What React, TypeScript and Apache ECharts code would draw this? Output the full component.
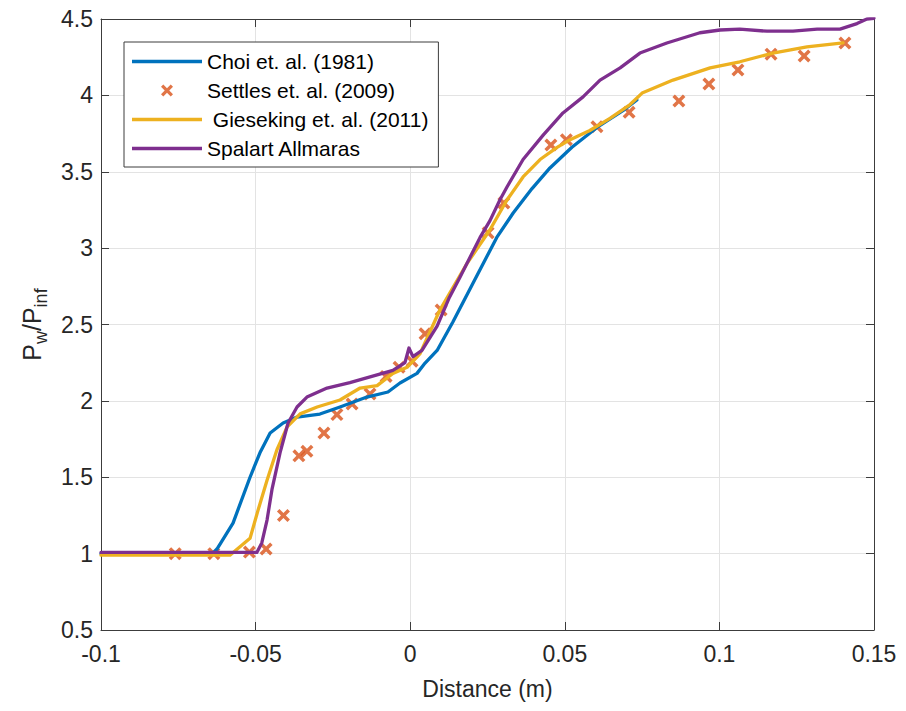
import React, { useEffect, useRef } from "react";
import * as echarts from "echarts";

// ---- Data ----
const choiX = [-0.1, -0.064, -0.0625, -0.0573, -0.0518, -0.0486, -0.0453, -0.0411, -0.0366, -0.0292, -0.0227, -0.014, -0.0072, -0.0033, 0.0022, 0.0045, 0.0087, 0.0138, 0.0203, 0.028, 0.0333, 0.0394, 0.0452, 0.0523, 0.0604, 0.0688, 0.0733];
const choiY = [1.0, 1.0, 1.03, 1.2, 1.5, 1.66, 1.79, 1.855, 1.894, 1.914, 1.96, 2.025, 2.058, 2.117, 2.18, 2.24, 2.33, 2.516, 2.77, 3.07, 3.23, 3.39, 3.525, 3.66, 3.79, 3.9, 3.97];

const settlesX = [-0.076, -0.0635, -0.052, -0.0466, -0.041, -0.036, -0.0334, -0.0279, -0.0237, -0.0188, -0.013, -0.0078, -0.0036, 0.0006, 0.0048, 0.01, 0.0252, 0.0303, 0.0455, 0.0505, 0.0604, 0.0708, 0.0869, 0.0966, 0.106, 0.1167, 0.1274, 0.1406];
const settlesY = [1.0, 1.0, 1.01, 1.03, 1.25, 1.64, 1.67, 1.79, 1.91, 1.98, 2.045, 2.16, 2.22, 2.26, 2.44, 2.595, 3.1, 3.295, 3.675, 3.71, 3.795, 3.89, 3.963, 4.074, 4.166, 4.27, 4.258, 4.343];

const giesekingX = [-0.1, -0.0583, -0.0518, -0.0492, -0.0463, -0.0431, -0.0398, -0.0356, -0.0301, -0.0227, -0.0162, -0.0107, -0.0056, -0.001, 0.0032, 0.0096, 0.0184, 0.0258, 0.0313, 0.0365, 0.042, 0.0475, 0.0517, 0.0581, 0.0646, 0.0711, 0.075, 0.085, 0.097, 0.1066, 0.1173, 0.1283, 0.14];
const giesekingY = [0.99, 0.99, 1.1, 1.285, 1.48, 1.68, 1.83, 1.915, 1.96, 2.006, 2.084, 2.1, 2.18, 2.22, 2.31, 2.595, 2.9, 3.12, 3.315, 3.466, 3.58, 3.66, 3.71, 3.77, 3.85, 3.94, 4.015, 4.1, 4.18, 4.22, 4.277, 4.317, 4.343];

const spalartX = [-0.1, -0.0496, -0.048, -0.0463, -0.0447, -0.0421, -0.0395, -0.0366, -0.0334, -0.0269, -0.0195, -0.0107, -0.0056, -0.0017, -0.0004, 0.0009, 0.0038, 0.0087, 0.0125, 0.0161, 0.0226, 0.0258, 0.029, 0.0313, 0.0365, 0.043, 0.0494, 0.0559, 0.0614, 0.0679, 0.0743, 0.083, 0.0937, 0.1002, 0.1066, 0.1154, 0.1238, 0.1316, 0.139, 0.1445, 0.1477, 0.15];
const spalartY = [1.008, 1.008, 1.07, 1.22, 1.42, 1.66, 1.855, 1.96, 2.025, 2.084, 2.12, 2.17, 2.2, 2.25, 2.346, 2.29, 2.33, 2.49, 2.67, 2.81, 3.07, 3.18, 3.315, 3.4, 3.58, 3.74, 3.885, 3.99, 4.1, 4.18, 4.277, 4.343, 4.41, 4.428, 4.434, 4.42, 4.42, 4.434, 4.434, 4.47, 4.5, 4.505];

const seriesNames = ["Choi et. al. (1981)", "Settles et. al. (2009)", " Gieseking et. al. (2011)", "Spalart Allmaras"];
const seriesColors = ["#0072BD", "#D95319", "#EDB120", "#7E2F8E"];
const xTicks = { min: -0.1, max: 0.15, interval: 0.05 };
const yTicks = { min: 0.5, max: 4.5, interval: 0.5 };

const zip = (xs: number[], ys: number[]) => xs.map((x, i) => [x, ys[i]]);

const FONT = "'Liberation Sans', Arial, Helvetica, sans-serif";
const AXIS_COLOR = "#3c3c3c";
const TEXT_COLOR = "#262626";
const XMARK = "path://M0,1.9 L1.9,0 L5,3.1 L8.1,0 L10,1.9 L6.9,5 L10,8.1 L8.1,10 L5,6.9 L1.9,10 L0,8.1 L3.1,5 Z";
const LINEICON = "path://M0,0 L70,0 L70,3.3 L0,3.3 Z";

export default function App() {
  const ref = useRef<HTMLDivElement>(null);
  useEffect(() => {
    if (!ref.current) return;
    const chart = echarts.init(ref.current, null, { renderer: "svg" });
    const fmt = (v: number) => String(Math.round(v * 100) / 100);
    const sideAxis = {
      axisTick: { show: true, inside: true, length: 8, lineStyle: { color: AXIS_COLOR } },
      axisLabel: { show: false },
      splitLine: { show: false },
      axisLine: { show: true, onZero: false, lineStyle: { color: AXIS_COLOR, width: 1 } },
    };
    const lineSeries = (i: number, xs: number[], ys: number[]) => ({
      name: seriesNames[i],
      type: "line",
      data: zip(xs, ys),
      symbol: "none",
      lineStyle: { color: seriesColors[i], width: 3.3, join: "round", cap: "round" },
      itemStyle: { color: seriesColors[i] },
    });
    chart.setOption({
      animation: false,
      backgroundColor: "#ffffff",
      grid: { left: 101, right: 32, top: 19, bottom: 81, containLabel: false },
      legend: {
        left: 124,
        top: 42,
        orient: "vertical",
        data: seriesNames.map((n, i) =>
          i === 1
            ? { name: n, icon: XMARK, itemStyle: { color: seriesColors[i] } }
            : { name: n, icon: LINEICON, itemStyle: { color: seriesColors[i] } }
        ),
        itemWidth: 70,
        itemHeight: 12,
        itemGap: 8,
        padding: [9, 10, 8, 8],
        borderColor: AXIS_COLOR,
        borderWidth: 1,
        backgroundColor: "#ffffff",
        textStyle: { fontFamily: FONT, fontSize: 21, color: "#000000", lineHeight: 21 },
      },
      xAxis: [
        {
          type: "value",
          ...xTicks,
          position: "bottom",
          name: "Distance (m)",
          nameLocation: "middle",
          nameGap: 47,
          nameTextStyle: { fontFamily: FONT, fontSize: 23, color: TEXT_COLOR },
          axisLine: { show: true, onZero: false, lineStyle: { color: AXIS_COLOR, width: 1 } },
          axisTick: { show: true, inside: true, length: 8, lineStyle: { color: AXIS_COLOR } },
          axisLabel: { fontFamily: FONT, fontSize: 23, color: TEXT_COLOR, margin: 12, formatter: fmt },
          splitLine: { show: true, lineStyle: { color: "#e3e3e3", width: 1 } },
        },
        { type: "value", ...xTicks, position: "top", ...sideAxis },
      ],
      yAxis: [
        {
          type: "value",
          ...yTicks,
          position: "left",
          name: "{p|P}{s|w}{p|/P}{s|inf}",
          nameLocation: "middle",
          nameGap: 56,
          nameRotate: 90,
          nameTextStyle: {
            fontFamily: FONT,
            color: TEXT_COLOR,
            rich: {
              p: { fontFamily: FONT, fontSize: 25, color: TEXT_COLOR, lineHeight: 26, verticalAlign: "top" },
              s: { fontFamily: FONT, fontSize: 18, color: TEXT_COLOR, lineHeight: 18, verticalAlign: "top", padding: [13, 0, 0, 0] },
            },
          },
          axisLine: { show: true, onZero: false, lineStyle: { color: AXIS_COLOR, width: 1 } },
          axisTick: { show: true, inside: true, length: 8, lineStyle: { color: AXIS_COLOR } },
          axisLabel: { fontFamily: FONT, fontSize: 23, color: TEXT_COLOR, margin: 8, formatter: fmt },
          splitLine: { show: true, lineStyle: { color: "#e3e3e3", width: 1 } },
        },
        { type: "value", ...yTicks, position: "right", ...sideAxis },
      ],
      series: [
        lineSeries(0, choiX, choiY),
        {
          name: seriesNames[1],
          type: "scatter",
          data: zip(settlesX, settlesY),
          symbol: XMARK,
          symbolSize: 13,
          itemStyle: { color: seriesColors[1] },
        },
        lineSeries(2, giesekingX, giesekingY),
        lineSeries(3, spalartX, spalartY),
      ],
    });
    return () => chart.dispose();
  }, []);
  return (
    <div
      ref={ref}
      style={{ position: "absolute", left: 0, top: 0, width: 906, height: 711, background: "#fff" }}
    />
  );
}
